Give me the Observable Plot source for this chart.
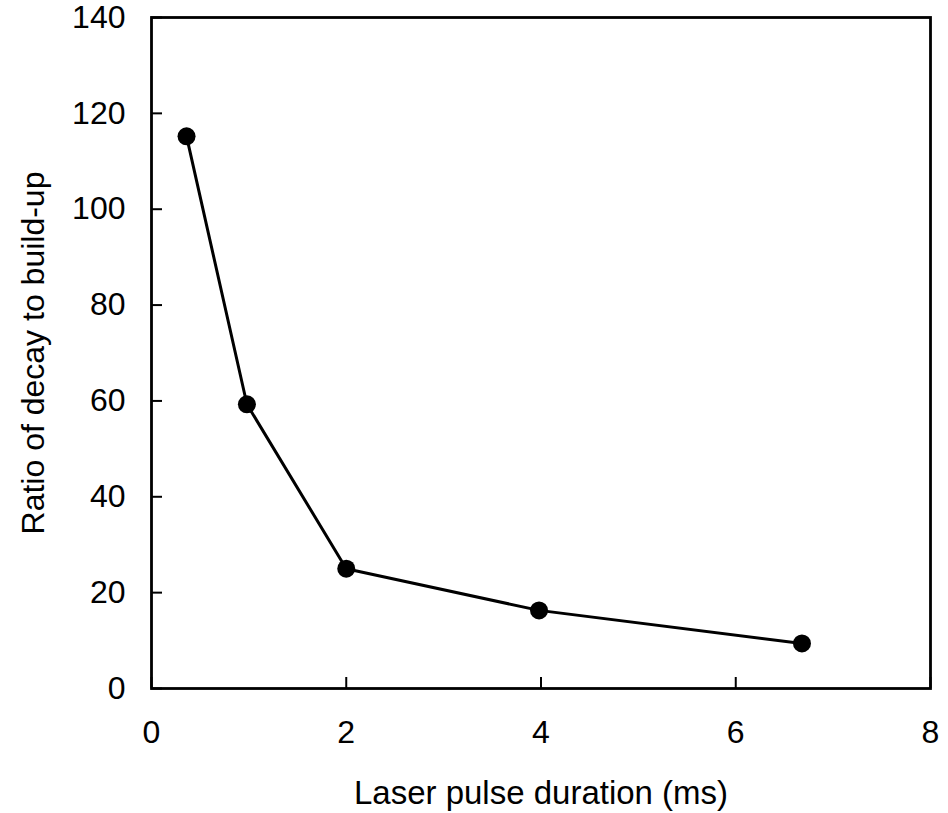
<!DOCTYPE html>
<html>
<head>
<meta charset="utf-8">
<script src="https://cdn.jsdelivr.net/npm/d3@7"></script>
<script src="https://cdn.jsdelivr.net/npm/@observablehq/plot@0.6"></script>
<style>
  html, body { margin: 0; padding: 0; background: #fff; }
  #chart svg { display: block; }
</style>
</head>
<body>
<div id="chart"></div>
<script>
const pulseDuration = [0.36, 0.98, 2.0, 3.98, 6.68];
const decayRatio = [115.2, 59.3, 25.0, 16.3, 9.4];
const xTicks = [0, 2, 4, 6, 8];
const yTicks = [0, 20, 40, 60, 80, 100, 120, 140];
const xLabel = "Laser pulse duration (ms)";
const yLabel = "Ratio of decay to build-up";

const data = pulseDuration.map((x, i) => ({x, y: decayRatio[i]}));

const chart = Plot.plot({
  width: 948,
  height: 813,
  marginLeft: 151,
  marginRight: 18,
  marginTop: 17,
  marginBottom: 125,
  style: {fontFamily: "Liberation Sans, Arial, sans-serif", background: "#fff", color: "#000"},
  x: {domain: [0, 8]},
  y: {domain: [0, 140]},
  marks: [
    // inward tick marks
    Plot.axisX({ticks: xTicks, tickSize: -11, tickFormat: () => "", label: null, strokeWidth: 2}),
    Plot.axisY({ticks: yTicks, tickSize: -11, tickFormat: () => "", label: null, strokeWidth: 2}),
    // tick labels
    Plot.axisX({ticks: xTicks, tickSize: 0, tickPadding: 32, tickFormat: d => String(d), fontSize: 32, label: null}),
    Plot.axisY({ticks: yTicks, tickSize: 0, tickPadding: 26, tickFormat: d => String(d), fontSize: 32, label: null}),
    Plot.frame({stroke: "#000", strokeWidth: 2.8}),
    Plot.line(data, {x: "x", y: "y", stroke: "#000", strokeWidth: 3}),
    Plot.dot(data, {x: "x", y: "y", fill: "#000", r: 9}),
    Plot.text([xLabel], {frameAnchor: "bottom", textAnchor: "middle", lineAnchor: "bottom", dy: 115, fontSize: 33, text: d => d, fill: "#000"}),
    Plot.text([yLabel], {frameAnchor: "left", textAnchor: "middle", dx: -118, rotate: -90, fontSize: 32, text: d => d, fill: "#000"})
  ]
});
document.getElementById("chart").appendChild(chart);
</script>
</body>
</html>
